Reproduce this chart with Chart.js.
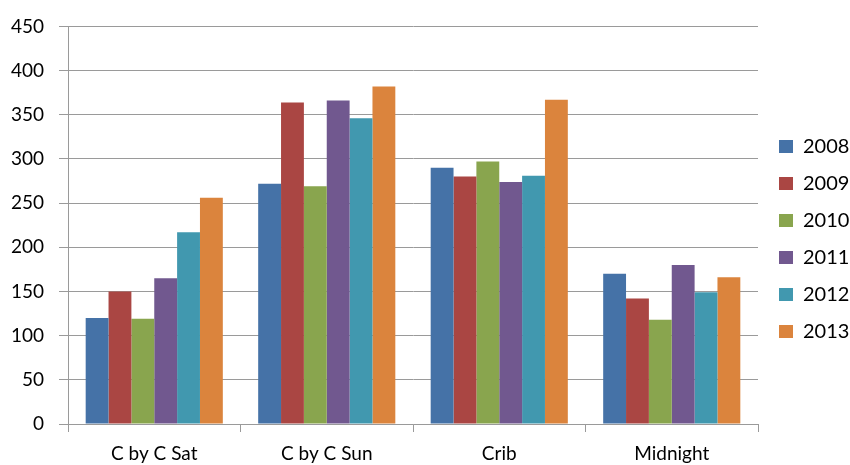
<!DOCTYPE html>
<html>
<head>
<meta charset="utf-8">
<script src="https://cdn.jsdelivr.net/npm/chart.js@4"></script>
<style>
  html, body { margin: 0; padding: 0; background: #fff; }
  #wrap { width: 850px; height: 465px; }
</style>
</head>
<body>
<div id="wrap"><canvas id="c" width="850" height="465"></canvas></div>
<script>
// Attendance by service, one series per year
const categories = ["C by C Sat", "C by C Sun", "Crib", "Midnight"];
const years = ["2008", "2009", "2010", "2011", "2012", "2013"];
const v2008 = [120, 272, 290, 170];
const v2009 = [150, 364, 280, 142];
const v2010 = [119, 269, 297, 118];
const v2011 = [165, 366, 274, 180];
const v2012 = [217, 346, 281, 149];
const v2013 = [256, 382, 367, 166];
const yTicks = [0, 50, 100, 150, 200, 250, 300, 350, 400, 450];

const seriesValues = [v2008, v2009, v2010, v2011, v2012, v2013];
const colors = ["#4572A7", "#AA4643", "#89A54E", "#71588F", "#4198AF", "#DB843D"];

const FONT = "Lato, 'Open Sans', sans-serif";

// Fixed-width legend column on the right, items nudged toward the text edge
const legendColumn = {
  id: "legendColumn",
  afterInit(chart) {
    const lg = chart.legend;
    const fit = lg.fit.bind(lg);
    lg.fit = function () { fit(); this.width = 92; };
    const draw = lg.draw.bind(lg);
    lg.draw = function () {
      const ctx = chart.ctx;
      ctx.save();
      ctx.translate(4, 2);
      draw();
      ctx.restore();
    };
  }
};

new Chart(document.getElementById("c"), {
  type: "bar",
  data: {
    labels: categories,
    datasets: years.map((y, i) => ({
      label: y,
      data: seriesValues[i],
      backgroundColor: colors[i],
      borderWidth: 0,
      categoryPercentage: 0.795,
      barPercentage: 1.0
    }))
  },
  plugins: [legendColumn],
  options: {
    responsive: false,
    animation: false,
    layout: { padding: { top: 9, right: 0, left: 0, bottom: 0 } },
    plugins: {
      tooltip: { enabled: false },
      legend: {
        position: "right",
        align: "center",
        labels: {
          boxWidth: 14,
          boxHeight: 13,
          padding: 17,
          color: "#000",
          font: { family: FONT, size: 20 }
        }
      }
    },
    scales: {
      x: {
        afterFit: (s) => { s.height = 41; },
        grid: {
          offset: true,
          drawOnChartArea: false,
          drawTicks: true,
          tickLength: 8,
          color: "#9a9a9a"
        },
        border: { color: "#9a9a9a", width: 1 },
        ticks: { color: "#000", font: { family: FONT, size: 19 }, padding: 10 }
      },
      y: {
        min: 0,
        max: 450,
        afterBuildTicks: (s) => { s.ticks = yTicks.map(v => ({ value: v })); },
        afterFit: (s) => { s.width = 68; },
        grid: { color: "#9a9a9a", tickLength: 9 },
        border: { color: "#9a9a9a", width: 1 },
        ticks: { color: "#000", font: { family: FONT, size: 19 }, padding: 15 }
      }
    }
  }
});
</script>
</body>
</html>
